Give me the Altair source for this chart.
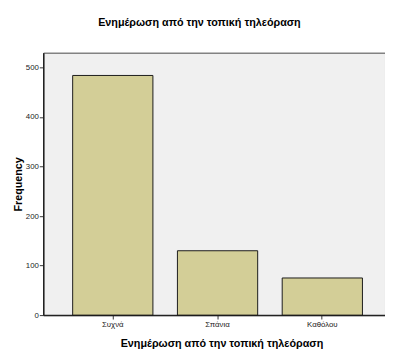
import altair as alt
import pandas as pd

categories = ["Συχνά", "Σπάνια", "Καθόλου"]
frequency = [484, 130, 75]
y_ticks = [0, 100, 200, 300, 400, 500]
title_text = "Ενημέρωση από την τοπική τηλεόραση"

df = pd.DataFrame({"cat": categories, "freq": frequency})

FONT = "Liberation Sans"

chart = alt.Chart(df).mark_bar(
    color="#D3CE97", stroke="#1a1a1a", strokeWidth=1
).encode(
    x=alt.X("cat:N", sort=categories,
            scale=alt.Scale(paddingInner=0.234, paddingOuter=0.248, align=0.566),
            axis=alt.Axis(title=title_text, labelAngle=0, labelFontSize=8,
                          labelColor="#222", labelFont=FONT, tickSize=4,
                          tickColor="#333", domainColor="#222", domainWidth=1.5,
                          titleFont=FONT, titleFontSize=11, titleFontWeight="bold",
                          titleColor="#000", titleX=182, titleY=29,
                          titleAlign="center", titleBaseline="middle",
                          labelPadding=2)),
    y=alt.Y("freq:Q", scale=alt.Scale(domain=[0, 530], nice=False),
            axis=alt.Axis(title="Frequency", values=y_ticks, labelFontSize=8,
                          labelColor="#222", labelFont=FONT, tickSize=4,
                          tickColor="#333", domainColor="#222", domainWidth=1.5,
                          grid=False, titleFont=FONT, titleFontSize=11,
                          titleFontWeight="bold", titleColor="#000",
                          titleX=-25, titleY=134, titleAngle=-90,
                          titleAlign="center", titleBaseline="middle",
                          labelPadding=1)),
).properties(
    width=349,
    height=268,
    title=alt.TitleParams(title_text, font=FONT, fontSize=11, fontWeight="bold",
                          color="#000", anchor="middle", dx=-15, offset=25),
    autosize=alt.AutoSizeParams(type="none"),
    padding={"left": 36, "top": 42, "right": 0, "bottom": 32},
).configure(
    background="white",
    view=alt.ViewConfig(fill="#F0F0F0", stroke="#444", strokeWidth=1),
)

chart.save("out.html", embed_options={"renderer": "svg", "actions": False})
